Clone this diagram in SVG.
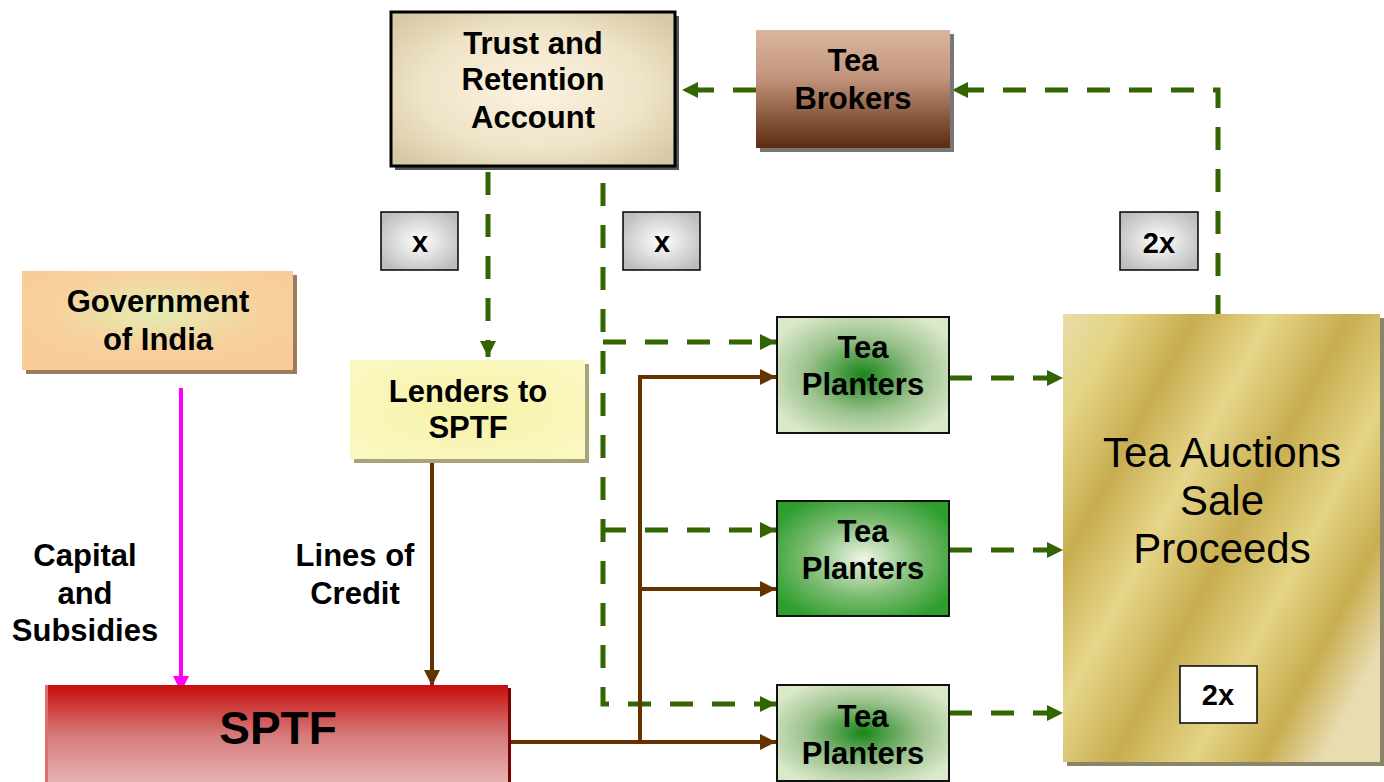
<svg xmlns="http://www.w3.org/2000/svg" width="1384" height="782" viewBox="0 0 1384 782">
<style>
.b{font-family:"Liberation Sans",Arial,sans-serif;font-weight:bold;font-size:31px;fill:#000;text-anchor:middle}
.n{font-family:"Liberation Sans",Arial,sans-serif;font-size:42px;fill:#000;text-anchor:middle}
.g{fill:none;stroke:#336600;stroke-width:5;stroke-dasharray:23 19}
.br{fill:none;stroke:#663300;stroke-width:4}
</style>
<defs>
<marker id="ag" viewBox="0 0 10 10" refX="10" refY="5" markerWidth="16" markerHeight="16" markerUnits="userSpaceOnUse" orient="auto"><path d="M0,0 L10,5 L0,10 Z" fill="#336600"/></marker>
<marker id="ab" viewBox="0 0 10 10" refX="10" refY="5" markerWidth="16" markerHeight="16" markerUnits="userSpaceOnUse" orient="auto"><path d="M0,0 L10,5 L0,10 Z" fill="#663300"/></marker>
<marker id="am" viewBox="0 0 10 10" refX="10" refY="5" markerWidth="16" markerHeight="16" markerUnits="userSpaceOnUse" orient="auto"><path d="M0,0 L10,5 L0,10 Z" fill="#ff00ff"/></marker>
<radialGradient id="gTRA" cx="50%" cy="50%" r="65%"><stop offset="0" stop-color="#fcf3e0"/><stop offset="0.6" stop-color="#efe4c8"/><stop offset="1" stop-color="#d6c9a5"/></radialGradient>
<linearGradient id="gBrk" x1="0" y1="0" x2="0" y2="1"><stop offset="0" stop-color="#dcb59f"/><stop offset="0.4" stop-color="#c3957c"/><stop offset="1" stop-color="#5c2a10"/></linearGradient>
<radialGradient id="gGov" cx="50%" cy="40%" r="60%"><stop offset="0" stop-color="#e2eeb2"/><stop offset="0.6" stop-color="#f6d29e"/><stop offset="1" stop-color="#f9cb98"/></radialGradient>
<radialGradient id="gLen" cx="50%" cy="50%" r="70%"><stop offset="0" stop-color="#f6f2a8"/><stop offset="1" stop-color="#fbf8c4"/></radialGradient>
<linearGradient id="gSP" x1="0" y1="0" x2="0" y2="1"><stop offset="0" stop-color="#c80c0c"/><stop offset="0.5" stop-color="#d67a7a"/><stop offset="1" stop-color="#e8b6b6"/></linearGradient>
<radialGradient id="gPL" cx="50%" cy="50%" r="60%"><stop offset="0" stop-color="#1a861a"/><stop offset="0.55" stop-color="#9cc28e"/><stop offset="1" stop-color="#dbe9cb"/></radialGradient>
<radialGradient id="gPD" cx="50%" cy="50%" r="60%"><stop offset="0" stop-color="#eef5e6"/><stop offset="0.55" stop-color="#7cbc72"/><stop offset="1" stop-color="#2e9e2e"/></radialGradient>
<radialGradient id="gX" cx="50%" cy="50%" r="60%"><stop offset="0" stop-color="#ffffff"/><stop offset="1" stop-color="#bdbdbd"/></radialGradient>
<linearGradient id="gAu" x1="0" y1="0" x2="1" y2="0.75"><stop offset="0" stop-color="#e8dcaa"/><stop offset="0.12" stop-color="#e4d485"/><stop offset="0.27" stop-color="#c8ad50"/><stop offset="0.42" stop-color="#e6d68a"/><stop offset="0.58" stop-color="#c8ad50"/><stop offset="0.74" stop-color="#e4d485"/><stop offset="0.88" stop-color="#c8ad50"/><stop offset="1" stop-color="#e8dcb0"/></linearGradient>
</defs>

<g id="connectors">
<path class="g" d="M756,90 H682" marker-end="url(#ag)"/>
<path class="g" d="M1218,318 V90 H952" marker-end="url(#ag)"/>
<path class="g" d="M488,166 V357" stroke-dashoffset="-6" marker-end="url(#ag)"/>
<path class="g" d="M603,183 V704 H776" marker-end="url(#ag)"/>
<path class="g" d="M603,342 H776" marker-end="url(#ag)"/>
<path class="g" d="M603,530 H776" marker-end="url(#ag)"/>
<path class="g" d="M949,378 H1063" marker-end="url(#ag)"/>
<path class="g" d="M949,550 H1063" marker-end="url(#ag)"/>
<path class="g" d="M949,713 H1063" marker-end="url(#ag)"/>
<path d="M181,388 V692" fill="none" stroke="#ff00ff" stroke-width="4" marker-end="url(#am)"/>
<path class="br" d="M432,458 V686" marker-end="url(#ab)"/>
<path class="br" d="M510,742 H640 V377 H776" marker-end="url(#ab)"/>
<path class="br" d="M640,589 H776" marker-end="url(#ab)"/>
<path class="br" d="M640,742 H776" marker-end="url(#ab)"/>
</g>

<g id="trust">
<rect x="395" y="16" width="284" height="154" fill="#555"/>
<rect x="391" y="12" width="284" height="154" fill="url(#gTRA)" stroke="#000" stroke-width="3"/>
<text class="b" x="533" y="54">Trust and</text>
<text class="b" x="533" y="90">Retention</text>
<text class="b" x="533" y="128">Account</text>
</g>

<g id="brokers">
<rect x="760" y="34" width="194" height="118" fill="#777"/>
<rect x="756" y="30" width="194" height="118" fill="url(#gBrk)"/>
<text class="b" x="853" y="71">Tea</text>
<text class="b" x="853" y="109">Brokers</text>
</g>

<g id="x1">
<rect x="381" y="212" width="77" height="58" fill="url(#gX)" stroke="#000" stroke-width="1.5"/>
<text class="b" x="420" y="252" style="font-size:29px">x</text>
</g>
<g id="x2">
<rect x="623" y="212" width="77" height="58" fill="url(#gX)" stroke="#000" stroke-width="1.5"/>
<text class="b" x="662" y="252" style="font-size:29px">x</text>
</g>
<g id="x3">
<rect x="1120" y="212" width="78" height="58" fill="url(#gX)" stroke="#000" stroke-width="1.5"/>
<text class="b" x="1159" y="253" style="font-size:29px">2x</text>
</g>

<g id="gov">
<rect x="26" y="275" width="271" height="99" fill="#9c7c5c"/>
<rect x="22" y="271" width="271" height="99" fill="url(#gGov)"/>
<text class="b" x="158" y="312">Government</text>
<text class="b" x="158" y="350">of India</text>
</g>

<g id="lenders">
<rect x="354" y="364" width="235" height="99" fill="#a8a478"/>
<rect x="350" y="360" width="235" height="99" fill="url(#gLen)"/>
<text class="b" x="468" y="402">Lenders to</text>
<text class="b" x="468" y="438">SPTF</text>
</g>

<g id="labels">
<text class="b" x="85" y="566">Capital</text>
<text class="b" x="85" y="604">and</text>
<text class="b" x="85" y="641">Subsidies</text>
<text class="b" x="355" y="566">Lines of</text>
<text class="b" x="355" y="604">Credit</text>
</g>

<g id="sptf">
<rect x="48" y="688" width="463" height="100" fill="#7a0000"/>
<rect x="45" y="685" width="463" height="100" fill="url(#gSP)"/>
<rect x="45" y="685" width="3" height="100" fill="#e07070"/>
<text class="b" x="278" y="744" style="font-size:46px">SPTF</text>
</g>

<g id="planters1">
<rect x="777" y="317" width="172" height="116" fill="url(#gPL)" stroke="#111" stroke-width="2"/>
<text class="b" x="863" y="358">Tea</text>
<text class="b" x="863" y="395">Planters</text>
</g>
<g id="planters2">
<rect x="777" y="501" width="172" height="115" fill="url(#gPD)" stroke="#111" stroke-width="2"/>
<text class="b" x="863" y="542">Tea</text>
<text class="b" x="863" y="579">Planters</text>
</g>
<g id="planters3">
<rect x="777" y="685" width="172" height="96" fill="url(#gPL)" stroke="#111" stroke-width="2"/>
<text class="b" x="863" y="727">Tea</text>
<text class="b" x="863" y="764">Planters</text>
</g>

<g id="auctions">
<rect x="1067" y="318" width="317" height="448" fill="#8a8468"/>
<rect x="1063" y="314" width="317" height="448" fill="url(#gAu)"/>
<text class="n" x="1222" y="467">Tea Auctions</text>
<text class="n" x="1222" y="515">Sale</text>
<text class="n" x="1222" y="563">Proceeds</text>
<rect x="1180" y="666" width="77" height="57" fill="#fff" stroke="#000" stroke-width="1.5"/>
<text class="b" x="1218" y="705" style="font-size:29px">2x</text>
</g>
</svg>
